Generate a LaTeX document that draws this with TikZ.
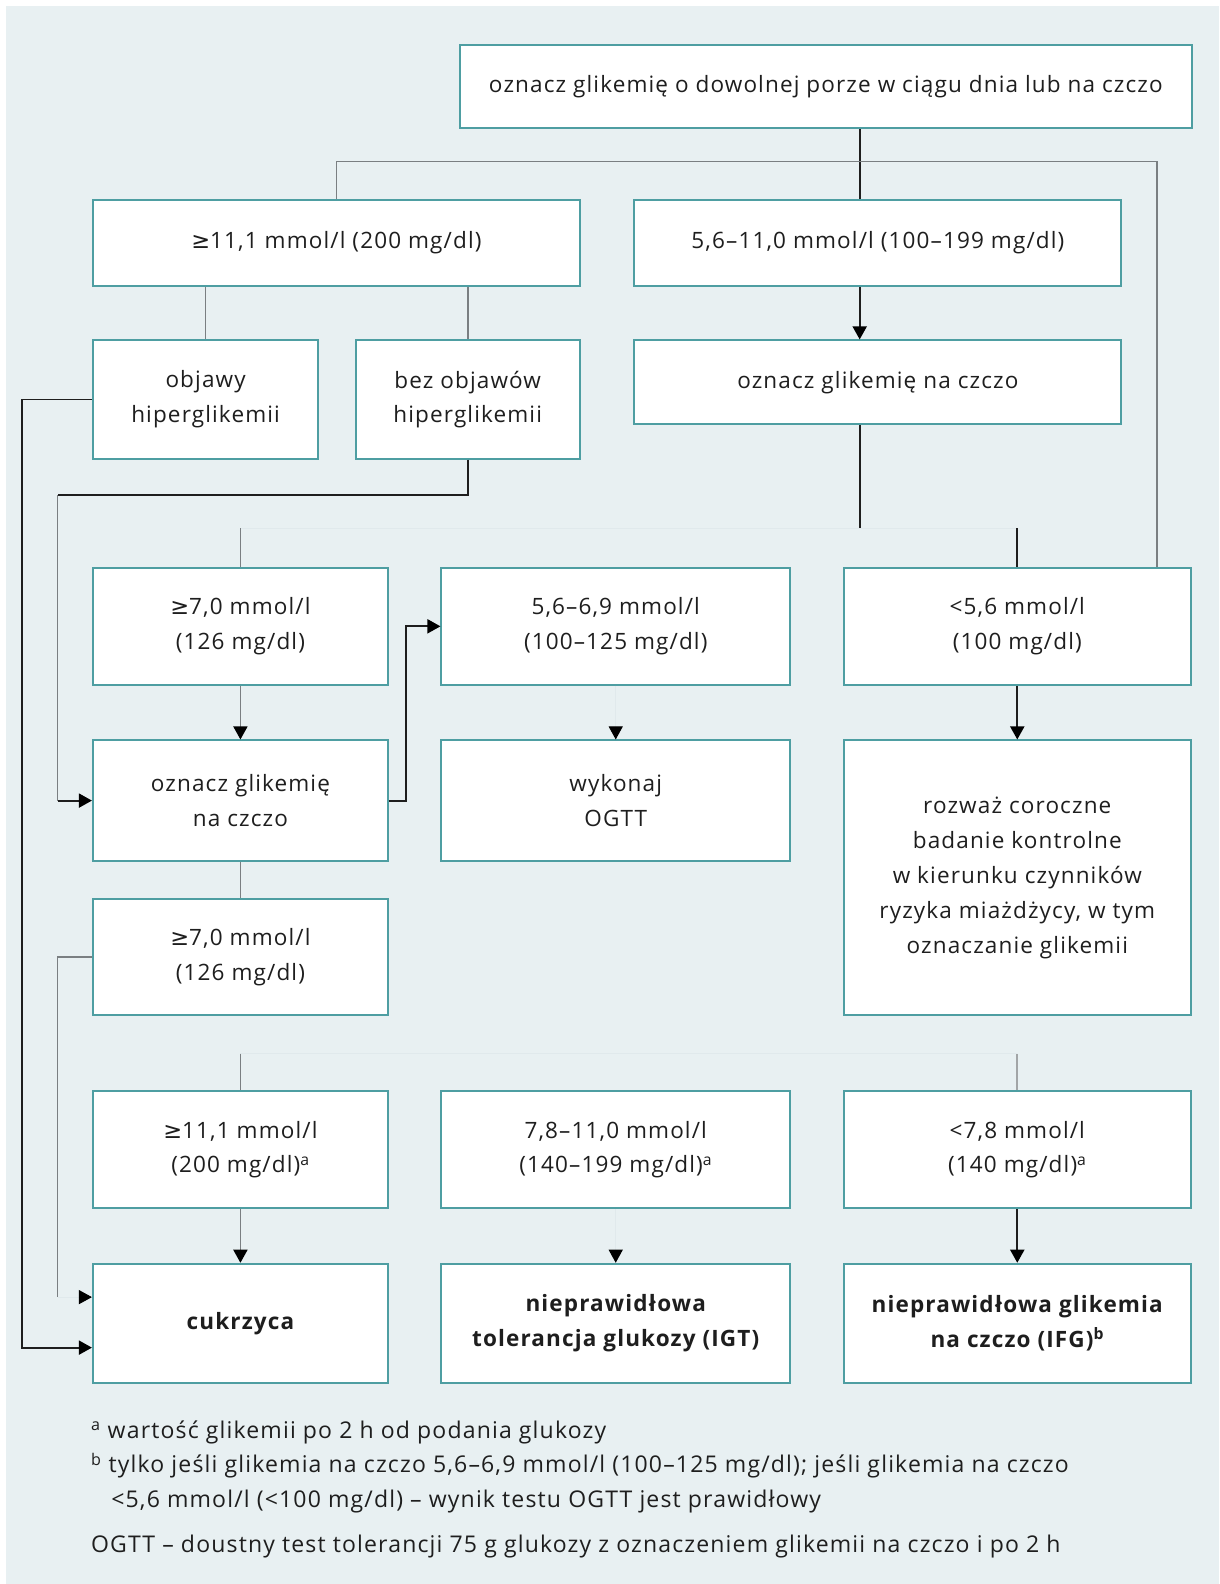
\documentclass[tikz,border=0pt]{standalone}
\usepackage{fontspec}
\setmainfont{Open Sans}[LetterSpace=5]
\newfontfamily\symf{DejaVu Sans}
\usetikzlibrary{arrows.meta}
\definecolor{bgc}{HTML}{E8F0F2}
\definecolor{tealc}{HTML}{4E9EA2}
\definecolor{dkc}{HTML}{1E1E1E}
\definecolor{grc}{HTML}{7A7F82}
\definecolor{fntc}{HTML}{E0E9EC}
\newcommand{\gesym}{{\symf ≥}}
\begin{document}
\begin{tikzpicture}[x=1pt,y=-1pt,
  font=\fontsize{22.3}{34.5}\selectfont,
  box/.style={draw=tealc, line width=2pt, fill=white, align=center, text=dkc, inner sep=0pt},
  dk/.style={draw=dkc, line width=1.8pt},
  gr/.style={draw=grc, line width=1.6pt},
  faint/.style={draw=fntc, line width=1pt},
  tip/.style={-{Triangle[length=13pt,width=14pt,color=black]}},
  fn/.style={anchor=base west, inner sep=0pt, text=dkc, font=\fontsize{22.8}{34.5}\selectfont}
]
\useasboundingbox (0,0) rectangle (1207,1568);
\fill[bgc] (6,6) rectangle (1207,1568);

% named coordinates
\coordinate (xb) at (851,0);
\coordinate (xr) at (1145,0);
\coordinate (xl1) at (22,0);
\coordinate (xl2) at (57,0);
\coordinate (xm) at (402,0);
\coordinate (h1) at (0,160);
\coordinate (h2) at (0,523);
\coordinate (h3) at (0,490);
\coordinate (h4) at (0,1043);
\coordinate (yc1) at (0,1284);
\coordinate (yc2) at (0,1334);

% boxes
\node[box, minimum width=725pt, minimum height=82pt] (top) at (817.5,86) {oznacz glikemię o dowolnej porze w ciągu dnia lub na czczo};
\node[box, minimum width=482pt, minimum height=85pt] (A) at (333,240.5) {\gesym11,1 mmol/l (200 mg/dl)};
\node[box, minimum width=482pt, minimum height=85pt] (B) at (869,240.5) {5,6–11,0 mmol/l (100–199 mg/dl)};
\node[box, minimum width=482pt, minimum height=83pt] (C) at (869,378.5) {oznacz glikemię na czczo};
\node[box, minimum width=223pt, minimum height=117pt] (D1) at (203.5,395.5) {objawy\\hiperglikemii};
\node[box, minimum width=222pt, minimum height=117pt] (D2) at (463,395.5) {bez objawów\\hiperglikemii};

\node[box, minimum width=292pt, minimum height=116pt] (E1) at (238,620) {\gesym7,0 mmol/l\\(126 mg/dl)};
\node[box, minimum width=345pt, minimum height=116pt] (F1) at (609.5,620) {5,6–6,9 mmol/l\\(100–125 mg/dl)};
\node[box, minimum width=344pt, minimum height=116pt] (G1) at (1007,620) {<5,6 mmol/l\\(100 mg/dl)};

\node[box, minimum width=292pt, minimum height=119pt] (E2) at (238,792.5) {oznacz glikemię\\na czczo};
\node[box, minimum width=345pt, minimum height=119pt] (F2) at (609.5,792.5) {wykonaj\\OGTT};
\node[box, minimum width=344pt, minimum height=272pt] (G2) at (1007,869) {rozważ coroczne\\badanie kontrolne\\w kierunku czynników\\ryzyka miażdżycy, w tym\\oznaczanie glikemii};

\node[box, minimum width=292pt, minimum height=115pt] (H) at (238,947.5) {\gesym7,0 mmol/l\\(126 mg/dl)};

\node[box, minimum width=292pt, minimum height=116pt] (I1) at (238,1138) {\gesym11,1 mmol/l\\(200 mg/dl)\textsuperscript{a}};
\node[box, minimum width=345pt, minimum height=116pt] (I2) at (609.5,1138) {7,8–11,0 mmol/l\\(140–199 mg/dl)\textsuperscript{a}};
\node[box, minimum width=344pt, minimum height=116pt] (I3) at (1007,1138) {<7,8 mmol/l\\(140 mg/dl)\textsuperscript{a}};

\node[box, minimum width=292pt, minimum height=118pt, font=\fontsize{22.3}{34.5}\selectfont\bfseries] (J1) at (238,1310) {cukrzyca};
\node[box, minimum width=345pt, minimum height=118pt, font=\fontsize{22.3}{34.5}\selectfont\bfseries] (J2) at (609.5,1310) {nieprawidłowa\\tolerancja glukozy (IGT)};
\node[box, minimum width=344pt, minimum height=118pt, font=\fontsize{22.3}{34.5}\selectfont\bfseries] (J3) at (1007,1310) {nieprawidłowa glikemia\\na czczo (IFG)\textsuperscript{b}};

% connectors
\draw[dk] (top.south -| xb) -- (B.north -| xb);
\draw[gr] (A.north) -- (A.north |- h1) -- (xr |- h1) -- (G1.north -| xr);
\draw[dk, tip] (B.south -| xb) -- (C.north -| xb);
\draw[dk] (C.south -| xb) -- (xb |- h2);
\draw[faint] (E1.north |- h2) -- (G1.north |- h2);
\draw[dk] (G1.north |- h2) -- (G1.north);
\draw[gr] (E1.north |- h2) -- (E1.north);
\draw[gr] (A.south -| D1.north) -- (D1.north);
\draw[gr] (A.south -| D2.north) -- (D2.north);

\draw[dk, tip] (D1.west) -- (xl1 |- D1.west) -- (xl1 |- yc2) -- (J1.west |- yc2);
\draw[dk] (D2.south) -- (D2.south |- h3) -- (xl2 |- h3);
\draw[gr] (xl2 |- h3) -- (xl2 |- E2.west);
\draw[dk, tip] (xl2 |- E2.west) -- (E2.west);

\draw[gr, tip] (E1.south) -- (E2.north);
\draw[dk, tip] (E2.east) -- (xm |- E2.east) -- (xm |- F1.west) -- (F1.west);
\draw[faint, tip] (F1.south) -- (F2.north);
\draw[dk, tip] (G1.south) -- (G2.north);

\draw[gr] (E2.south) -- (H.north);
\draw[gr] (H.west) -- (xl2 |- H.west) -- (xl2 |- yc1);
\draw[faint, tip] (xl2 |- yc1) -- (J1.west |- yc1);

\draw[faint] (I1.north |- h4) -- (I3.north |- h4);
\draw[gr] (I1.north |- h4) -- (I1.north);
\draw[draw=grc!70, line width=1.6pt] (I3.north |- h4) -- (I3.north);

\draw[gr, tip] (I1.south) -- (J1.north);
\draw[faint, tip] (I2.south) -- (J2.north);
\draw[dk, tip] (I3.south) -- (J3.north);

% footnotes
\node[fn] (fa) at (90,1424) {\textsuperscript{a} wartość glikemii po 2 h od podania glukozy};
\node[fn] (fb) at (90,1458) {\textsuperscript{b} tylko jeśli glikemia na czczo 5,6–6,9 mmol/l (100–125 mg/dl); jeśli glikemia na czczo};
\node[fn] (fb2) at (110,1492) {<5,6 mmol/l (<100 mg/dl) – wynik testu OGTT jest prawidłowy};
\node[fn] (fc) at (90,1537) {OGTT – doustny test tolerancji 75 g glukozy z oznaczeniem glikemii na czczo i po 2 h};
\end{tikzpicture}
\end{document}
